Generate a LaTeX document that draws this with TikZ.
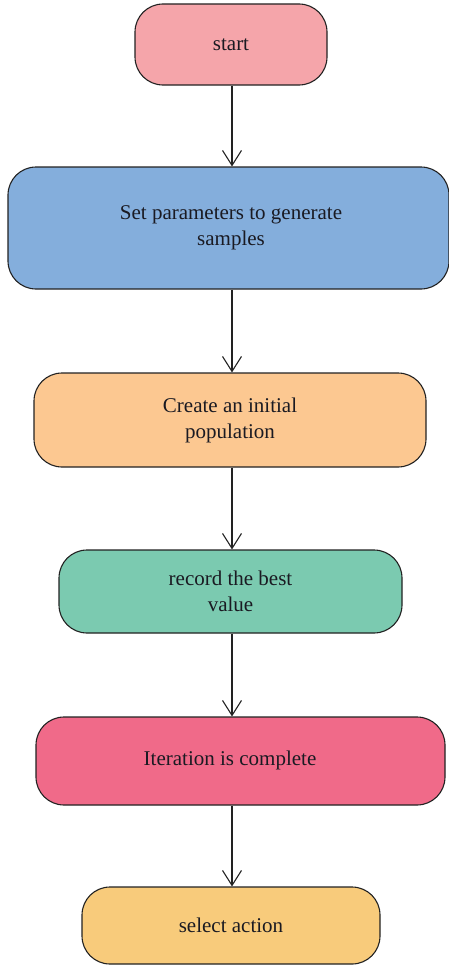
\documentclass[tikz,border=0pt]{standalone}
\usepackage{fontspec}
\setmainfont{Liberation Serif}
\usetikzlibrary{arrows.meta}

\definecolor{cstart}{HTML}{F5A5AA}
\definecolor{cparam}{HTML}{84AEDC}
\definecolor{cinit}{HTML}{FCC891}
\definecolor{crecord}{HTML}{7BCAB0}
\definecolor{citer}{HTML}{F06A89}
\definecolor{cselect}{HTML}{F8CB7B}
\definecolor{cline}{HTML}{222222}
\definecolor{ctext}{HTML}{1A1A22}

\tikzset{
  stepbox/.style={draw=cline, line width=1.1pt, rounded corners=28pt,
    align=center, inner sep=0pt, text=ctext,
    font=\fontsize{21}{26}\selectfont},
  steptext/.style={align=center, inner sep=0pt, text=ctext,
    font=\fontsize{21}{26}\selectfont},
  flow/.style={draw=cline, line width=1.1pt,
    -{Straight Barb[length=15pt,width=19pt,line width=1.1pt]}}
}

\begin{document}
\begin{tikzpicture}[x=1pt,y=-1pt]
  \useasboundingbox (0,0) rectangle (449,966);

  \node[stepbox, fill=cstart, minimum width=192pt, minimum height=81pt]
    (start) at (231,44.5) {start};
  \node[stepbox, fill=cparam, minimum width=441pt, minimum height=122pt]
    (param) at (228.5,228) {};
  \node[steptext] (paramtext) at (231,228) {Set parameters to generate\\samples};
  \node[stepbox, fill=cinit, minimum width=392pt, minimum height=94pt]
    (init) at (230,420) {Create an initial\\population};
  \node[stepbox, fill=crecord, minimum width=343pt, minimum height=83pt]
    (record) at (230.5,591.5) {record the best\\value};
  \node[stepbox, fill=citer, minimum width=409pt, minimum height=88pt]
    (iter) at (240.5,761) {};
  \node[steptext] (itertext) at (230,760) {Iteration is complete};
  \node[stepbox, fill=cselect, minimum width=298pt, minimum height=77pt]
    (select) at (231,925.5) {select action};

  % common vertical axis of the connectors
  \coordinate (axis) at (232,0);

  \draw[flow] (start.south -| axis) -- (param.north -| axis);
  \draw[flow] (param.south -| axis) -- (init.north -| axis);
  \draw[flow] (init.south -| axis) -- (record.north -| axis);
  \draw[flow] (record.south -| axis) -- (iter.north -| axis);
  \draw[flow] (iter.south -| axis) -- (select.north -| axis);
\end{tikzpicture}
\end{document}
